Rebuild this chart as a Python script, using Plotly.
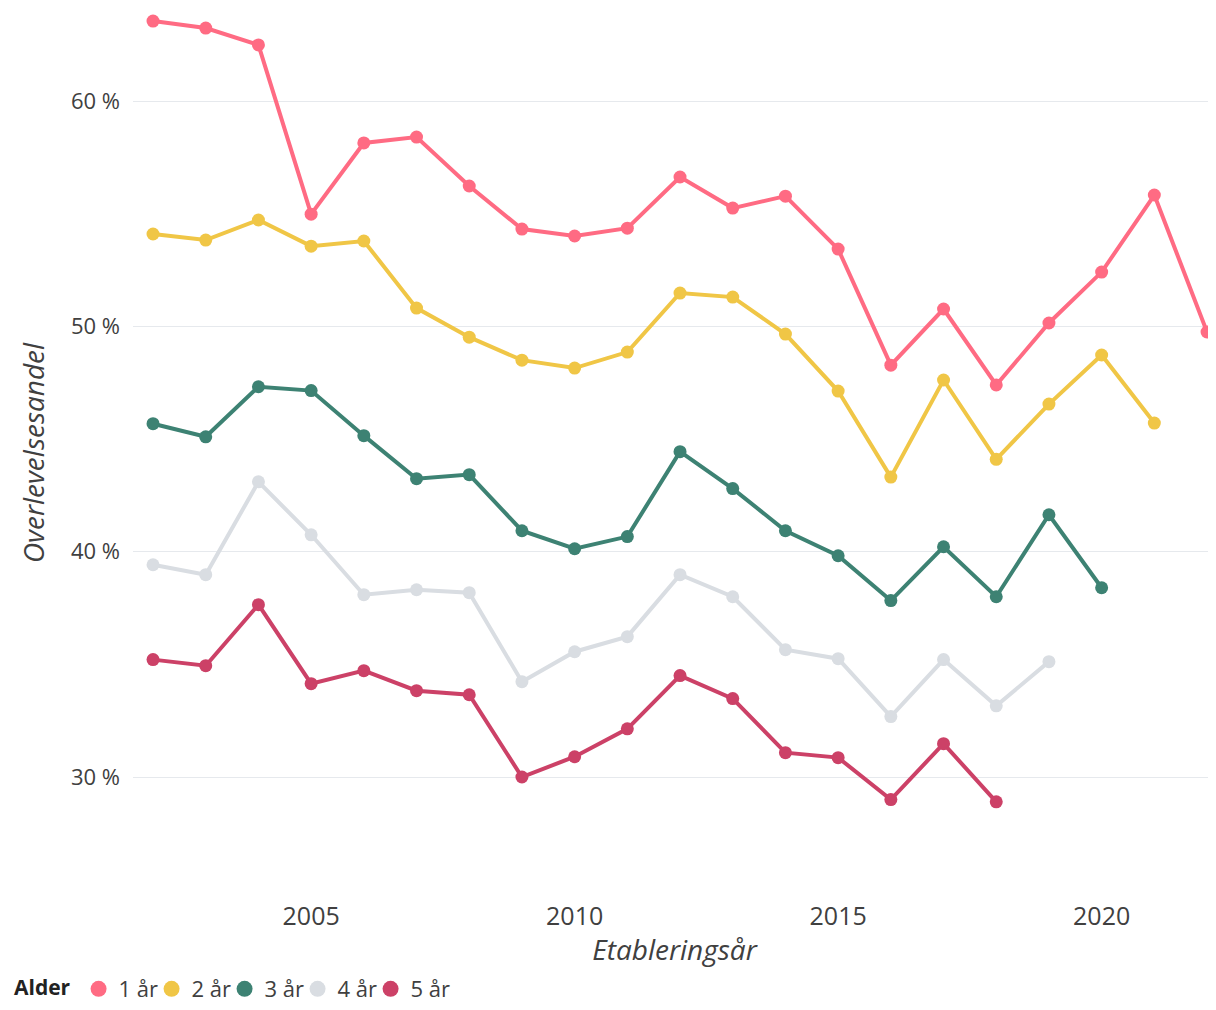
import plotly.graph_objects as go

years = list(range(2002, 2023))

# overlevelsesandel i prosent, per alder
alder_1 = [63.55, 63.24, 62.49, 54.98, 58.14, 58.4, 56.23, 54.32, 54.01, 54.36, 56.63,
           55.25, 55.78, 53.43, 48.28, 50.77, 47.4, 50.15, 52.41, 55.83, 49.75]
alder_2 = [54.1, 53.83, 54.72, 53.56, 53.79, 50.81, 49.52, 48.5, 48.15, 48.86, 51.48,
           51.3, 49.66, 47.13, 43.31, 47.62, 44.1, 46.55, 48.73, 45.71]
alder_3 = [45.68, 45.1, 47.32, 47.15, 45.15, 43.24, 43.42, 40.93, 40.13, 40.67, 44.44,
           42.8, 40.93, 39.82, 37.83, 40.22, 38.0, 41.64, 38.4]
alder_4 = [39.42, 38.98, 43.1, 40.75, 38.09, 38.31, 38.18, 34.23, 35.56, 36.23, 38.98,
           38.0, 35.65, 35.25, 32.68, 35.21, 33.16, 35.12]
alder_5 = [35.21, 34.94, 37.65, 34.14, 34.72, 33.83, 33.65, 30.0, 30.9, 32.14, 34.5,
           33.48, 31.08, 30.86, 29.0, 31.48, 28.9]

names = ["1 år", "2 år", "3 år", "4 år", "5 år"]
colors = ["#FF6B83", "#F0C646", "#3D8273", "#D9DDE2", "#CC4167"]
series = [alder_1, alder_2, alder_3, alder_4, alder_5]

y_ticks = [30, 40, 50, 60]
y_labels = ["30 %", "40 %", "50 %", "60 %"]
x_ticks = [2005, 2010, 2015, 2020]

fig = go.Figure()
for name, vals, col in zip(names, series, colors):
    fig.add_trace(go.Scatter(
        x=years[:len(vals)], y=vals, name=name, mode="lines+markers",
        line=dict(color=col, width=4),
        marker=dict(color=col, size=13),
        cliponaxis=False, showlegend=False,
    ))
# legend entries with only the dot
for name, col in zip(names, colors):
    fig.add_trace(go.Scatter(
        x=[None], y=[None], name=name, mode="markers",
        marker=dict(color=col, size=17),
    ))
# invisible spacer so the last legend label is not clipped
fig.add_trace(go.Scatter(
    x=[None], y=[None], name=" ", mode="markers",
    marker=dict(color="rgba(0,0,0,0)", size=1),
))

font = "Segoe UI, Open Sans, sans-serif"
txt = "#404040"
# page has an 8px body margin, so the figure is 8px smaller than the window
fig.update_layout(
    width=1208, height=1002,
    margin=dict(l=125, r=0, t=0, b=112),
    plot_bgcolor="white", paper_bgcolor="white",
    font=dict(family=font, size=21, color=txt),
    showlegend=True,
    legend=dict(
        orientation="h", xref="container", yref="container",
        x=0.0033, xanchor="left", y=-0.009, yanchor="bottom",
        title=dict(text="<b>Alder</b>", font=dict(size=21, color="#222222")),
        font=dict(size=22, color=txt),
        itemwidth=30, entrywidth=28, tracegroupgap=0,
    ),
    xaxis=dict(
        range=[2001.62, 2022.17], tickvals=x_ticks,
        showgrid=False, zeroline=False, showline=False, ticks="",
        automargin=False, ticklabelstandoff=1,
        title=dict(text="<i>Etableringsår</i>", standoff=21,
                   font=dict(size=28, color=txt)),
        tickfont=dict(size=25, color=txt),
    ),
    yaxis=dict(
        range=[24.63, 64.13], tickvals=y_ticks, ticktext=y_labels,
        showgrid=True, gridcolor="#E6E9ED", gridwidth=1, zeroline=False,
        showline=False, ticks="", automargin=False, ticklabelstandoff=12,
        title=dict(text="<i>Overlevelsesandel</i>", standoff=18,
                   font=dict(size=28, color=txt)),
        tickfont=dict(size=22, color=txt),
    ),
)

fig.write_html("out.html")
